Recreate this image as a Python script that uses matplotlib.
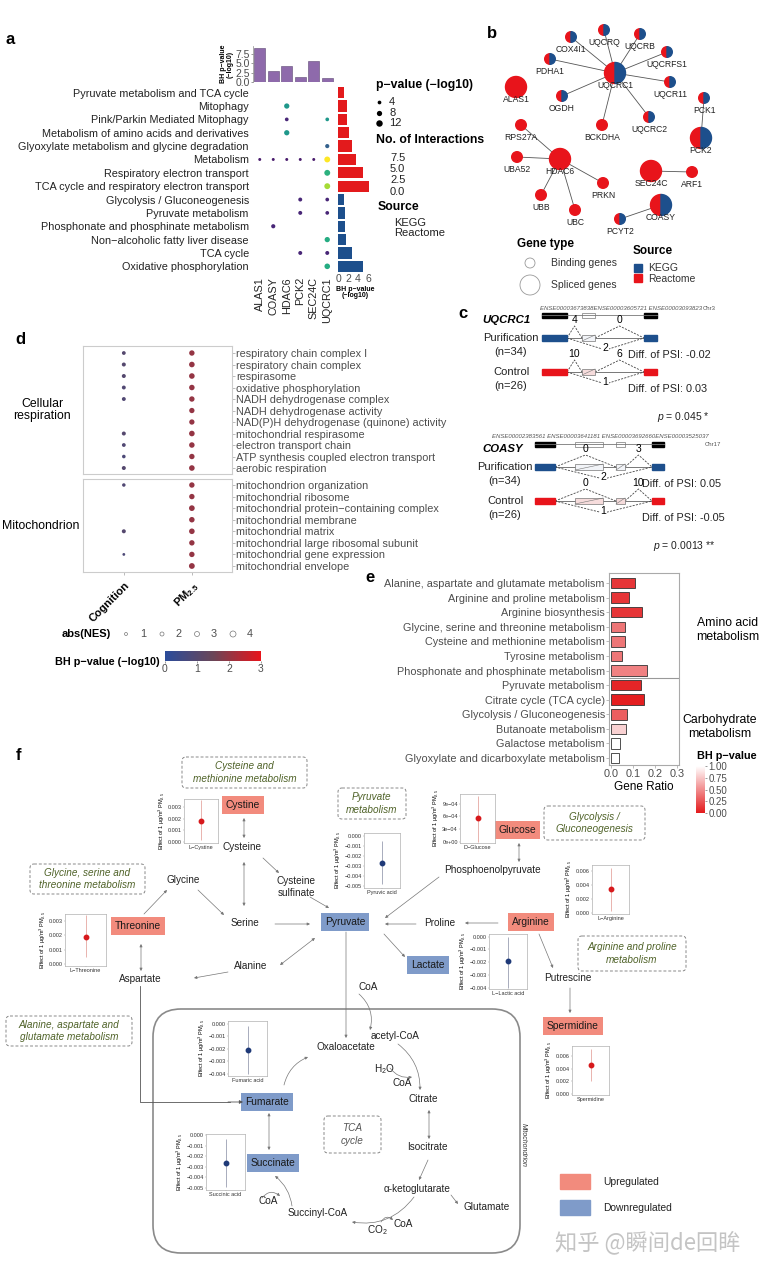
import numpy as np
import matplotlib
matplotlib.use("Agg")
import matplotlib.pyplot as plt
from matplotlib.patches import Wedge, Circle, Rectangle, FancyBboxPatch
from matplotlib.colors import LinearSegmentedColormap, Normalize
from matplotlib.colorbar import ColorbarBase

plt.rcParams['font.family'] = ['Liberation Sans', 'DejaVu Sans']
plt.rcParams['mathtext.fontset'] = 'custom'
plt.rcParams['mathtext.rm'] = 'Liberation Sans'
plt.rcParams['mathtext.it'] = 'Liberation Sans:italic'
plt.rcParams['mathtext.bf'] = 'Liberation Sans:bold'

# ---------------- panel a data ----------------
a_genes = ['ALAS1', 'COASY', 'HDAC6', 'PCK2', 'SEC24C', 'UQCRC1']
a_gene_bh = [9.1, 2.9, 4.3, 1.4, 5.6, 1.1]
a_paths = ['Pyruvate metabolism and TCA cycle', 'Mitophagy',
           'Pink/Parkin Mediated Mitophagy', 'Metabolism of amino acids and derivatives',
           'Glyoxylate metabolism and glycine degradation', 'Metabolism',
           'Respiratory electron transport', 'TCA cycle and respiratory electron transport',
           'Glycolysis / Gluconeogenesis', 'Pyruvate metabolism',
           'Phosphonate and phosphinate metabolism', 'Non\u2212alcoholic fatty liver disease',
           'TCA cycle', 'Oxidative phosphorylation']
a_path_bh = [1.2, 1.7, 1.7, 2.2, 2.7, 3.6, 5.0, 6.2, 1.2, 1.4, 1.4, 1.6, 2.8, 4.9]
a_path_src = ['Reactome'] * 8 + ['KEGG'] * 6
a_dot_path = [1, 2, 2, 3, 4, 5, 5, 5, 5, 5, 5, 6, 7, 8, 8, 9, 9, 10, 11, 12, 12, 13]
a_dot_gene = [2, 2, 5, 2, 5, 0, 1, 2, 3, 4, 5, 5, 5, 3, 5, 3, 5, 1, 5, 3, 5, 5]
a_dot_p = [8, 4, 4, 8, 5, 2.5, 2.5, 2.5, 2.5, 2.5, 10, 10, 10, 4.5, 4, 4.5, 4, 5, 8, 4.5, 4.5, 9]
a_dot_n = [4.0, 0.8, 4.0, 4.0, 2.3, 0.5, 0.5, 0.5, 0.5, 0.5, 7.5, 4.8, 6.5, 0.8, 0.8, 0.8, 0.8,
           0.8, 4.6, 0.8, 0.8, 4.6]
a_p_legend = [4, 8, 12]
a_n_legend = ['7.5', '5.0', '2.5', '0.0']

# ---------------- panel b data ----------------
b_nodes = ['UQCRC1', 'UQCRQ', 'COX4I1', 'UQCRB', 'UQCRFS1', 'PDHA1', 'UQCR11', 'ALAS1', 'OGDH',
           'PCK1', 'RPS27A', 'BCKDHA', 'UQCRC2', 'PCK2', 'UBA52', 'HDAC6', 'SEC24C', 'ARF1',
           'PRKN', 'UBB', 'UBC', 'COASY', 'PCYT2']
b_spliced = ['UQCRC1', 'ALAS1', 'PCK2', 'HDAC6', 'SEC24C', 'COASY']
b_in_kegg = ['UQCRC1', 'UQCRQ', 'COX4I1', 'UQCRB', 'UQCRFS1', 'PDHA1', 'UQCR11', 'OGDH', 'PCK1',
             'UQCRC2', 'PCK2', 'COASY', 'PCYT2']
b_edges = [('UQCRC1', 'UQCRQ'), ('UQCRC1', 'COX4I1'), ('UQCRC1', 'UQCRB'), ('UQCRC1', 'UQCRFS1'),
           ('UQCRC1', 'PDHA1'), ('UQCRC1', 'UQCR11'), ('UQCRC1', 'OGDH'), ('UQCRC1', 'BCKDHA'),
           ('UQCRC1', 'UQCRC2'), ('PCK1', 'PCK2'), ('HDAC6', 'RPS27A'), ('HDAC6', 'UBA52'),
           ('HDAC6', 'UBB'), ('HDAC6', 'UBC'), ('HDAC6', 'PRKN'), ('SEC24C', 'ARF1'),
           ('COASY', 'PCYT2')]

# ---------------- panel c data ----------------
c_genes = ['UQCRC1', 'COASY']
c_exon_ids = ['ENSE00003673838ENSE00003605721 ENSE00003093823',
              'ENSE00002383561 ENSE00003641181 ENSE00003692660ENSE00003525037']
c_chr = ['Chr3', 'Chr17']
c_pur_counts = [[4, 0, 2], [0, 3, 2]]
c_ctl_counts = [[10, 6, 1], [0, 10, 1]]
c_pur_dpsi = ['-0.02', '0.05']
c_ctl_dpsi = ['0.03', '-0.05']
c_pvals = ['0.045 *', '0.0013 **']

# ---------------- panel d data ----------------
d_terms_cr = ['respiratory chain complex I', 'respiratory chain complex', 'respirasome',
              'oxidative phosphorylation', 'NADH dehydrogenase complex',
              'NADH dehydrogenase activity', 'NAD(P)H dehydrogenase (quinone) activity',
              'mitochondrial respirasome', 'electron transport chain',
              'ATP synthesis coupled electron transport', 'aerobic respiration']
d_terms_mt = ['mitochondrion organization', 'mitochondrial ribosome',
              'mitochondrial protein\u2212containing complex', 'mitochondrial membrane',
              'mitochondrial matrix', 'mitochondrial large ribosomal subunit',
              'mitochondrial gene expression', 'mitochondrial envelope']
d_cog_nes_cr = [1.8, 2.0, 2.0, 1.9, 1.9, np.nan, np.nan, 2.0, 1.8, 1.6, 2.0]
d_cog_p_cr = [1.0, 1.0, 1.0, 0.9, 0.9, np.nan, np.nan, 1.0, 0.9, 0.8, 1.0]
d_pm_nes_cr = [3.4, 3.6, 3.6, 3.5, 3.4, 3.3, 3.3, 3.6, 3.5, 3.4, 3.6]
d_pm_p_cr = [2.0] * 11
d_cog_nes_mt = [1.5, np.nan, np.nan, np.nan, 2.0, np.nan, 0.8, np.nan]
d_cog_p_mt = [0.9, np.nan, np.nan, np.nan, 1.0, np.nan, 0.8, np.nan]
d_pm_nes_mt = [3.4, 3.4, 3.7, 3.5, 3.6, 3.4, 3.4, 3.8]
d_pm_p_mt = [2.0] * 8
d_nes_legend = [1, 2, 3, 4]

# ---------------- panel e data ----------------
e_paths = ['Alanine, aspartate and glutamate metabolism', 'Arginine and proline metabolism',
           'Arginine biosynthesis', 'Glycine, serine and threonine metabolism',
           'Cysteine and methionine metabolism', 'Tyrosine metabolism',
           'Phosphonate and phosphinate metabolism', 'Pyruvate metabolism',
           'Citrate cycle (TCA cycle)', 'Glycolysis / Gluconeogenesis', 'Butanoate metabolism',
           'Galactose metabolism', 'Glyoxylate and dicarboxylate metabolism']
e_ratio = [0.11, 0.08, 0.14, 0.065, 0.065, 0.05, 0.165, 0.135, 0.15, 0.075, 0.07, 0.04, 0.035]
e_bh = [0.12, 0.12, 0.12, 0.40, 0.40, 0.40, 0.45, 0.05, 0.02, 0.30, 0.80, 1.0, 1.0]

# ---------------- panel f data ----------------
f_metab = ['L\u2212Cystine', 'D\u2212Glucose', 'Pyruvic acid', 'L\u2212Arginine',
           'L\u2212Threonine', 'L\u2212Lactic acid', 'Spermidine', 'Fumaric acid', 'Succinic acid']
f_est = [0.0018, 0.00057, -0.0027, 0.0034, 0.0019, -0.0019, 0.0045, -0.0021, -0.0026]
f_lo = [0.00015, 0.0, -0.0048, 0.0002, 0.0005, -0.0040, 0.0020, -0.0040, -0.0049]
f_hi = [0.0036, 0.00108, -0.0005, 0.0064, 0.0034, 0.0, 0.0071, -0.0002, -0.0004]
f_up = [True, True, False, True, True, False, True, False, False]

# ======================================================
W, H = 760, 1264
fig = plt.figure(figsize=(7.6, 12.64), dpi=100)


def px_axes(x, y, w, h):
    return fig.add_axes([x / W, 1 - (y + h) / H, w / W, h / H])


ov = px_axes(0, 0, W, H)
ov.set_xlim(0, W)
ov.set_ylim(H, 0)
ov.axis('off')

RED = '#e31a1c'
BLUE = '#1d4f8c'
GREY = '#4d4d4d'

for lab, x, y in [('a', 10, 40), ('b', 492, 33), ('c', 463, 313), ('d', 20, 340),
                  ('e', 370, 577), ('f', 18, 755)]:
    ov.text(x, y, lab, fontsize=12, fontweight='bold', ha='center', va='center')

# ---------------- panel a ----------------
xs = np.arange(len(a_genes))
ax_top = px_axes(253, 46, 81, 36)
ax_top.bar(xs, a_gene_bh, width=0.82, color='#8e6aab', edgecolor='#5d4773', lw=0.4)
ax_top.set_xlim(-0.5, 5.5)
ax_top.set_ylim(0, 9.6)
ax_top.set_yticks([0, 2.5, 5, 7.5])
ax_top.set_yticklabels(['0.0', '2.5', '5.0', '7.5'])
ax_top.set_xticks([])
for s in ['top', 'right', 'bottom']:
    ax_top.spines[s].set_visible(False)
ax_top.spines['left'].set_color('#888888')
ax_top.spines['left'].set_linewidth(0.5)
ax_top.tick_params(axis='y', labelsize=7.5, length=1.5, width=0.4, colors=GREY, pad=1)
ax_top.set_ylabel('BH p\u2212value\n(\u2212log10)', fontsize=5, fontweight='bold',
                  labelpad=1, linespacing=0.9)

ax_dot = px_axes(253, 86, 81, 187)
ax_dot.scatter(a_dot_gene, a_dot_path, s=np.array(a_dot_p) * 1.8, c=a_dot_n,
               cmap='viridis', vmin=0, vmax=7.5, linewidths=0)
ax_dot.set_xlim(-0.5, 5.5)
ax_dot.set_ylim(13.5, -0.5)
ax_dot.set_yticks(range(len(a_paths)))
ax_dot.set_yticklabels(a_paths, fontsize=7.8, color='#222222')
ax_dot.set_xticks(xs)
ax_dot.set_xticklabels(a_genes, rotation=90, fontsize=7.8, color='#222222')
ax_dot.tick_params(length=0, pad=3)
ax_dot.patch.set_alpha(0)
for s in ax_dot.spines.values():
    s.set_visible(False)

ax_rb = px_axes(338, 86, 34, 187)
ax_rb.barh(range(len(a_paths)), a_path_bh, height=0.85,
           color=[RED if s == 'Reactome' else BLUE for s in a_path_src])
ax_rb.set_xlim(0, 6.8)
ax_rb.set_ylim(13.5, -0.5)
ax_rb.set_yticks([])
ax_rb.set_xticks([0, 2, 4, 6])
ax_rb.tick_params(axis='x', labelsize=7.5, length=0, pad=1, colors=GREY)
for s in ax_rb.spines.values():
    s.set_visible(False)
ax_rb.set_xlabel('BH p\u2212value\n(\u2212log10)', fontsize=5, fontweight='bold',
                 labelpad=1, linespacing=0.9)

ov.text(376, 85, 'p\u2212value (\u2212log10)', fontsize=8.8, fontweight='bold', va='center')
for v, yy in zip(a_p_legend, [102, 113, 123]):
    ov.scatter(379, yy, s=v * 1.8, c='black', lw=0)
    ov.text(389, yy, str(v), fontsize=8, va='center', color='#222222')
ov.text(376, 140, 'No. of Interactions', fontsize=8.8, fontweight='bold', va='center')
for t, yy in zip(a_n_legend, [158, 169, 180, 192]):
    ov.text(390, yy, t, fontsize=8, va='center', color='#222222')
ov.text(378, 207, 'Source', fontsize=8.8, fontweight='bold', va='center')
ov.text(394, 223, 'KEGG', fontsize=8, va='center', color='#222222')
ov.text(394, 233, 'Reactome', fontsize=8, va='center', color='#222222')

# ---------------- panel b ----------------
b_pos = {'UQCRC1': (615, 73), 'UQCRQ': (604, 30), 'COX4I1': (571, 37), 'UQCRB': (640, 34),
         'UQCRFS1': (667, 52), 'PDHA1': (550, 59), 'UQCR11': (670, 82), 'ALAS1': (516, 87),
         'OGDH': (562, 96), 'PCK1': (704, 98), 'RPS27A': (521, 125), 'BCKDHA': (602, 125),
         'UQCRC2': (649, 117), 'PCK2': (701, 138), 'UBA52': (517, 157), 'HDAC6': (560, 159),
         'SEC24C': (651, 171), 'ARF1': (692, 172), 'PRKN': (603, 183), 'UBB': (541, 195),
         'UBC': (575, 210), 'COASY': (661, 205), 'PCYT2': (620, 219)}
for n1, n2 in b_edges:
    (x1, y1), (x2, y2) = b_pos[n1], b_pos[n2]
    ov.plot([x1, x2], [y1, y2], color='#555555', lw=0.6, zorder=1)
for n in b_nodes:
    x, y = b_pos[n]
    r = 10.5 if n in b_spliced else 5.3
    if n in b_in_kegg:
        ov.add_patch(Wedge((x, y), r, 90, 270, color='#e8141b', zorder=2))
        ov.add_patch(Wedge((x, y), r, 270, 90, color=BLUE, zorder=2))
    else:
        ov.add_patch(Circle((x, y), r, color='#e8141b', zorder=2))
    ov.text(x, y + 8, n, fontsize=6.2, ha='center', va='top', color='#222222', zorder=3)

ov.text(517, 244, 'Gene type', fontsize=8.5, fontweight='bold', va='center')
ov.add_patch(Circle((530, 263), 5, fill=False, ec='#999999', lw=0.6))
ov.add_patch(Circle((530, 285), 10, fill=False, ec='#999999', lw=0.6))
ov.text(551, 263, 'Binding genes', fontsize=7.5, va='center', color='#333333')
ov.text(551, 285, 'Spliced genes', fontsize=7.5, va='center', color='#333333')
ov.text(633, 251, 'Source', fontsize=8.5, fontweight='bold', va='center')
ov.add_patch(Rectangle((634, 264), 8, 8, color=BLUE))
ov.add_patch(Rectangle((634, 274), 8, 8, color='#e8141b'))
ov.text(648, 268, 'KEGG', fontsize=7.5, va='center', color='#333333')
ov.text(648, 279, 'Reactome', fontsize=7.5, va='center', color='#333333')

# ---------------- panel c ----------------
c_layout = [
    dict(head_y=315, pur_y=338, ctl_y=372, L=(542, 567), boxes=[(582, 595)], R=(644, 657),
         name_xy=(482, 320), lab_x=511, psi_x=628, p_xy=(710, 417), id_xy=(540, 309),
         chr_xy=(703, 309), peak=12),
    dict(head_y=444, pur_y=467, ctl_y=501, L=(535, 555), boxes=[(575, 603), (616, 625)],
         R=(652, 664), name_xy=(482, 449), lab_x=505, psi_x=642, p_xy=(715, 546),
         id_xy=(492, 437), chr_xy=(705, 445), peak=12),
]
for gi, lay in enumerate(c_layout):
    hy = lay['head_y']
    L, R = lay['L'], lay['R']
    ov.plot([L[0], R[1]], [hy, hy], color='#777777', lw=0.6)
    ov.add_patch(Rectangle((L[0], hy - 2.5), L[1] - L[0], 5, color='black'))
    ov.add_patch(Rectangle((R[0], hy - 2.5), R[1] - R[0], 5, color='black'))
    for b0, b1 in lay['boxes']:
        ov.add_patch(Rectangle((b0, hy - 2.5), b1 - b0, 5, fc='white', ec='#777777', lw=0.5))
    ov.text(lay['id_xy'][0], lay['id_xy'][1], c_exon_ids[gi], fontsize=4.3, style='italic',
            color='#555555', va='center')
    ov.text(lay['chr_xy'][0], lay['chr_xy'][1], c_chr[gi], fontsize=4.3, color='#555555',
            va='center')
    ov.text(lay['name_xy'][0], lay['name_xy'][1], c_genes[gi], fontsize=8.2, fontweight='bold',
            style='italic', va='center')
    for ty, col, bfc, counts, dpsi, grp, nn in [
            (lay['pur_y'], BLUE, '#f2f4f8', c_pur_counts[gi], c_pur_dpsi[gi], 'Purification', 'n=34'),
            (lay['ctl_y'], '#e8141b', '#f6dcdc', c_ctl_counts[gi], c_ctl_dpsi[gi], 'Control', 'n=26')]:
        ov.plot([L[1], R[0]], [ty, ty], color='#777777', lw=0.7, zorder=1)
        ov.add_patch(Rectangle((L[0], ty - 3), L[1] - L[0], 6, color=col, zorder=2))
        ov.add_patch(Rectangle((R[0], ty - 3), R[1] - R[0], 6, color=col, zorder=2))
        for b0, b1 in lay['boxes']:
            ov.add_patch(Rectangle((b0, ty - 3), b1 - b0, 6, fc=bfc, ec='#777777', lw=0.5, zorder=2))
            ov.plot([b0, b1], [ty + 3, ty - 3], color='#777777', lw=0.4, zorder=3)
        bl0, bl1 = lay['boxes'][-1]
        pk = lay['peak']
        xa = (L[1] + bl0) / 2
        xb = (bl1 + R[0]) / 2
        xc = (L[1] + R[0]) / 2
        dash = dict(color='#444444', lw=0.6, ls=(0, (2.5, 1.5)), zorder=1)
        ov.plot([L[1], xa, bl0], [ty, ty - pk, ty], **dash)
        ov.plot([bl1, xb, R[0]], [ty, ty - pk, ty], **dash)
        ov.plot([L[1], xc, R[0]], [ty, ty + pk, ty], **dash)
        ov.text(xa, ty - pk - 1, str(counts[0]), fontsize=7.5, ha='center', va='bottom')
        ov.text(xb, ty - pk - 1, str(counts[1]), fontsize=7.5, ha='center', va='bottom')
        ov.text(xc, ty + pk - 2, str(counts[2]), fontsize=7.5, ha='center', va='center',
                bbox=dict(fc='white', ec='none', pad=0.1))
        ov.text(lay['lab_x'], ty, grp, fontsize=8, ha='center', va='center', color='#222222')
        ov.text(lay['lab_x'], ty + 14, '(' + nn + ')', fontsize=8, ha='center', va='center',
                color='#222222')
        ov.text(lay['psi_x'], ty + 17, 'Diff. of PSI: ' + dpsi, fontsize=7.8, va='center',
                color='#222222')
    ov.text(lay['p_xy'][0], lay['p_xy'][1], '$p$ = ' + c_pvals[gi], fontsize=7.5, ha='right',
            va='center', color='#222222')

# ---------------- panel d ----------------
cmap_d = LinearSegmentedColormap.from_list('d', ['#2b4c9b', '#6a4658', '#e8141b'])


def nes_size(v):
    return (0.72 * (np.asarray(v, dtype=float) + 2.0)) ** 2


d_axes = []
for (y0, hh, terms, cn, cp, pn, pp, lims) in [
        (346, 128, d_terms_cr, d_cog_nes_cr, d_cog_p_cr, d_pm_nes_cr, d_pm_p_cr, (10.52, -0.61)),
        (479, 93, d_terms_mt, d_cog_nes_mt, d_cog_p_mt, d_pm_nes_mt, d_pm_p_mt, (7.52, -0.52))]:
    ax = px_axes(83, y0, 149, hh)
    rows = np.arange(len(terms))
    cn = np.array(cn, dtype=float)
    cp = np.array(cp, dtype=float)
    m = ~np.isnan(cn)
    ax.scatter(np.zeros(m.sum()), rows[m], s=nes_size(cn[m]), c=cp[m], cmap=cmap_d,
               vmin=0, vmax=3, linewidths=0)
    ax.scatter(np.ones(len(terms)), rows, s=nes_size(pn), c=pp, cmap=cmap_d, vmin=0, vmax=3,
               linewidths=0)
    ax.set_xlim(-0.6, 1.59)
    ax.set_ylim(*lims)
    ax.yaxis.tick_right()
    ax.set_yticks(rows)
    ax.set_yticklabels(terms, fontsize=7.8, color=GREY)
    ax.tick_params(axis='y', length=2, width=0.4, pad=1, colors='#888888', labelcolor=GREY)
    for s in ax.spines.values():
        s.set_color('#cccccc')
        s.set_linewidth(0.8)
    d_axes.append(ax)
d_axes[0].set_xticks([])
d_axes[1].set_xticks([0, 1])
d_axes[1].set_xticklabels(['Cognition', r'PM$_{\mathbf{2.5}}$'], rotation=45, ha='right',
                          rotation_mode='anchor', fontsize=8, fontweight='bold')
d_axes[1].tick_params(axis='x', length=2, width=0.4, colors='#888888', labelcolor='black')

ov.text(42, 410, 'Cellular\nrespiration', fontsize=8.8, ha='center', va='center',
        linespacing=1.1)
ov.text(41, 526, 'Mitochondrion', fontsize=8.8, ha='center', va='center')
ov.text(62, 634, 'abs(NES)', fontsize=8, fontweight='bold', va='center')
for v, xx in zip(d_nes_legend, [126, 162, 197, 233]):
    ov.scatter(xx, 634, s=nes_size(v), facecolors='none', edgecolors='#777777', lw=0.5)
    ov.text(xx + 17, 634, str(v), fontsize=7.8, ha='center', va='center', color=GREY)
ov.text(160, 662, 'BH p\u2212value (\u2212log10)', fontsize=7.8, fontweight='bold', ha='right',
        va='center')
cax_d = px_axes(165, 651, 96, 10)
cb_d = ColorbarBase(cax_d, cmap=cmap_d, norm=Normalize(0, 3), orientation='horizontal',
                    ticks=[0, 1, 2, 3])
cb_d.outline.set_visible(False)
cax_d.tick_params(labelsize=7.5, length=1.5, width=0.4, pad=1, colors=GREY)

# ---------------- panel e ----------------
cmap_e = LinearSegmentedColormap.from_list('e', ['#e31a1c', '#ffffff'])
ax_e = px_axes(609, 573, 70, 192)
rows_e = np.arange(len(e_paths))
ax_e.barh(rows_e, e_ratio, height=0.72, color=cmap_e(np.array(e_bh)), edgecolor='#333333',
          lw=0.6)
ax_e.axhline(6.5, color='#999999', lw=0.8)
ax_e.set_xlim(-0.009, 0.309)
ax_e.set_ylim(12.48, -0.69)
ax_e.set_yticks(rows_e)
ax_e.set_yticklabels(e_paths, fontsize=8, color=GREY)
ax_e.set_xticks([0, 0.1, 0.2, 0.3])
ax_e.set_xticklabels(['0.0', '0.1', '0.2', '0.3'])
ax_e.tick_params(labelsize=7.8, length=2, width=0.4, pad=1, colors='#888888', labelcolor=GREY)
for s in ax_e.spines.values():
    s.set_color('#aaaaaa')
    s.set_linewidth(0.8)
ax_e.set_xlabel('Gene Ratio', fontsize=8.5, labelpad=1)
ov.text(728, 630, 'Amino acid\nmetabolism', fontsize=8.8, ha='center', va='center')
ov.text(720, 727, 'Carbohydrate\nmetabolism', fontsize=8.8, ha='center', va='center')
ov.text(727, 756, 'BH p\u2212value', fontsize=7.8, fontweight='bold', ha='center',
        va='center')
cax_e = px_axes(696, 766, 9, 47)
cb_e = ColorbarBase(cax_e, cmap=cmap_e, norm=Normalize(0, 1), orientation='vertical',
                    ticks=[0, 0.25, 0.5, 0.75, 1.0])
cb_e.outline.set_visible(False)
cax_e.set_yticklabels(['0.00', '0.25', '0.50', '0.75', '1.00'])
cax_e.tick_params(labelsize=7, length=1.5, width=0.4, pad=1, colors=GREY)

# ---------------- panel f ----------------
UPC = '#f28b7d'
DNC = '#7f9bc9'
ov.add_patch(FancyBboxPatch((153, 1009), 367, 244, boxstyle='round,pad=0,rounding_size=28',
                            fc='none', ec='#8a8a8a', lw=1.2))
ov.text(523, 1145, 'Mitochondrion', fontsize=5, style='italic', rotation=-90,
        ha='center', va='center', color='#333333')

dashed_boxes = [('Cysteine and\nmethionine metabolism', 182, 757, 125, 31),
                ('Pyruvate\nmetabolism', 338, 788, 68, 31),
                ('Glycolysis /\nGluconeogenesis', 544, 806, 101, 34),
                ('Glycine, serine and\nthreonine metabolism', 30, 864, 115, 30),
                ('Arginine and proline\nmetabolism', 578, 936, 108, 35),
                ('Alanine, aspartate and\nglutamate metabolism', 6, 1016, 126, 30),
                ('TCA\ncycle', 324, 1116, 57, 37)]
for txt, x, y, w, h in dashed_boxes:
    ov.add_patch(FancyBboxPatch((x, y), w, h, boxstyle='round,pad=0,rounding_size=4',
                                fc='none', ec='#888888', lw=0.7, ls=(0, (3, 2))))
    ov.text(x + w / 2, y + h / 2, txt, fontsize=7.2, style='italic', ha='center', va='center',
            color='#4f6228' if txt != 'TCA\ncycle' else '#555555', linespacing=1.35)

plain_text = [('Cysteine', 242, 847), ('Glycine', 183, 880), ('Cysteine\nsulfinate', 296, 887),
              ('Serine', 245, 923), ('Proline', 440, 923), ('Phosphoenolpyruvate', 492, 870),
              ('Aspartate', 140, 979), ('Alanine', 251, 966), ('Putrescine', 568, 978),
              ('CoA', 368, 987), ('acetyl-CoA', 395, 1036), ('Oxaloacetate', 346, 1047),
              ('H$_2$O', 384, 1069), ('CoA', 402, 1083), ('Citrate', 423, 1099),
              ('Isocitrate', 427, 1147), ('\u03b1-ketoglutarate', 417, 1189),
              ('Glutamate', 487, 1207), ('CoA', 268, 1201), ('Succinyl-CoA', 318, 1213),
              ('CoA', 403, 1224), ('CO$_2$', 377, 1230)]
for txt, x, y in plain_text:
    ov.text(x, y, txt, fontsize=7.2, ha='center', va='center', color='#222222',
            linespacing=1.3)

gene_boxes = [('Cystine', 243, 805, True), ('Glucose', 517, 830, True),
              ('Pyruvate', 345, 922, False), ('Arginine', 531, 922, True),
              ('Threonine', 138, 926, True), ('Lactate', 428, 965, False),
              ('Spermidine', 573, 1026, True), ('Fumarate', 267, 1102, False),
              ('Succinate', 273, 1163, False)]
for txt, x, y, up in gene_boxes:
    ov.text(x, y, txt, fontsize=7.4, ha='center', va='center', color='#1a1a1a',
            bbox=dict(boxstyle='square,pad=0.4', fc=UPC if up else DNC, ec='none'))

arrows = [(244, 818, 244, 838, '<|-|>', 0), (263, 858, 279, 873, '-|>', 0),
          (244, 862, 244, 906, '<|-|>', 0), (198, 890, 224, 915, '-|>', 0),
          (144, 914, 167, 890, '-|>', 0), (275, 924, 310, 924, '-|>', 0),
          (310, 897, 329, 908, '-|>', 0), (315, 938, 280, 965, '<|-|>', 0),
          (228, 972, 194, 978, '-|>', 0), (141, 944, 141, 971, '<|-|>', 0),
          (439, 877, 385, 918, '-|>', 0), (416, 924, 385, 924, '-|>', 0),
          (498, 923, 465, 923, '-|>', 0), (384, 934, 405, 957, '-|>', 0),
          (539, 934, 553, 968, '-|>', 0), (570, 988, 570, 1013, '-|>', 0),
          (519, 843, 519, 862, '<|-|>', 0), (346, 932, 346, 1038, '-|>', 0),
          (359, 994, 370, 1030, '-|>', -0.3), (398, 1044, 420, 1090, '-|>', -0.25),
          (390, 1068, 412, 1077, '-|>', 0.3), (429, 1110, 429, 1139, '<|-|>', 0),
          (428, 1160, 419, 1180, '-|>', 0), (451, 1195, 458, 1204, '-|>', 0),
          (414, 1197, 352, 1222, '-|>', -0.3), (381, 1222, 393, 1220, '-|>', -0.6),
          (292, 1206, 275, 1176, '-|>', 0.2), (262, 1198, 280, 1196, '-|>', -0.5),
          (269, 1150, 269, 1113, '<|-|>', 0), (284, 1085, 308, 1057, '-|>', -0.25)]
for x0, y0, x1, y1, sty, rad in arrows:
    ov.annotate('', xy=(x1, y1), xytext=(x0, y0),
                arrowprops=dict(arrowstyle=sty, color='#777777', lw=0.5, mutation_scale=4,
                                shrinkA=0, shrinkB=0, connectionstyle=f'arc3,rad={rad}'))
ov.plot([140, 140, 230], [986, 1102, 1102], color='#555555', lw=0.6)
ov.annotate('', xy=(243, 1102), xytext=(228, 1102),
            arrowprops=dict(arrowstyle='-|>', color='#555555', lw=0.6, mutation_scale=5,
                            shrinkA=0, shrinkB=0))

# inset effect plots
inset_layout = [((184, 799, 34, 44), (-0.0001, 0.0037), [0, 0.001, 0.002, 0.003], '{:.3f}'),
                ((460, 794, 35, 49), (-0.00003, 0.00113), [0, 3e-4, 6e-4, 9e-4], 'sci'),
                ((364, 833, 36, 55), (-0.0052, 0.0003), [0, -0.001, -0.002, -0.003, -0.004, -0.005], '{:.3f}'),
                ((592, 865, 37, 49), (-0.0002, 0.0069), [0, 0.002, 0.004, 0.006], '{:.3f}'),
                ((65, 914, 41, 52), (-0.00016, 0.0035), [0, 0.001, 0.002, 0.003], '{:.3f}'),
                ((489, 934, 38, 55), (-0.0041, 0.0002), [0, -0.001, -0.002, -0.003, -0.004], '{:.3f}'),
                ((572, 1046, 37, 49), (-0.0001, 0.0075), [0, 0.002, 0.004, 0.006], '{:.3f}'),
                ((228, 1021, 39, 55), (-0.0042, 0.00024), [0, -0.001, -0.002, -0.003, -0.004], '{:.3f}'),
                ((206, 1134, 39, 56), (-0.0052, 0.0001), [0, -0.001, -0.002, -0.003, -0.004, -0.005], '{:.3f}')]
for i, (box, ylim, ticks, fmt) in enumerate(inset_layout):
    ax = px_axes(*box)
    col = '#d7191c' if f_up[i] else '#1f3a78'
    ecol = '#e9b3ae' if f_up[i] else '#a8acbc'
    ax.errorbar([0], [f_est[i]], yerr=[[f_est[i] - f_lo[i]], [f_hi[i] - f_est[i]]], fmt='o',
                color=col, ecolor=ecol, elinewidth=0.7, ms=3.2, capsize=0)
    ax.set_xlim(-1, 1)
    ax.set_ylim(*ylim)
    ax.set_xticks([0])
    ax.set_xticklabels([f_metab[i]])
    ax.set_yticks(ticks)
    if fmt == 'sci':
        ax.set_yticklabels(['0e+00', '3e\u221204', '6e\u221204', '9e\u221204'])
    else:
        ax.set_yticklabels([fmt.format(t).replace('-', '\u2212') for t in ticks])
    ax.tick_params(labelsize=4, length=1, width=0.3, pad=0.5, colors='#888888',
                   labelcolor='#333333')
    for s in ax.spines.values():
        s.set_color('#b0b0b0')
        s.set_linewidth(0.5)
    ax.set_ylabel('Effect of 1 \u03bcg/m$^3$ PM$_{2.5}$', fontsize=4, labelpad=1)

# legend for regulation
ov.add_patch(Rectangle((560, 1174), 30, 15, color=UPC))
ov.add_patch(Rectangle((560, 1200), 30, 15, color=DNC))
ov.text(603, 1182, 'Upregulated', fontsize=7.4, va='center', color='#222222')
ov.text(603, 1208, 'Downregulated', fontsize=7.4, va='center', color='#222222')

ov.text(648, 1242, '知乎 @瞬间de回眸', fontsize=16, color='#c4c4c4', ha='center', va='center',
        family=['Noto Sans CJK SC', 'DejaVu Sans'])

fig.savefig('out.png', dpi=100)
